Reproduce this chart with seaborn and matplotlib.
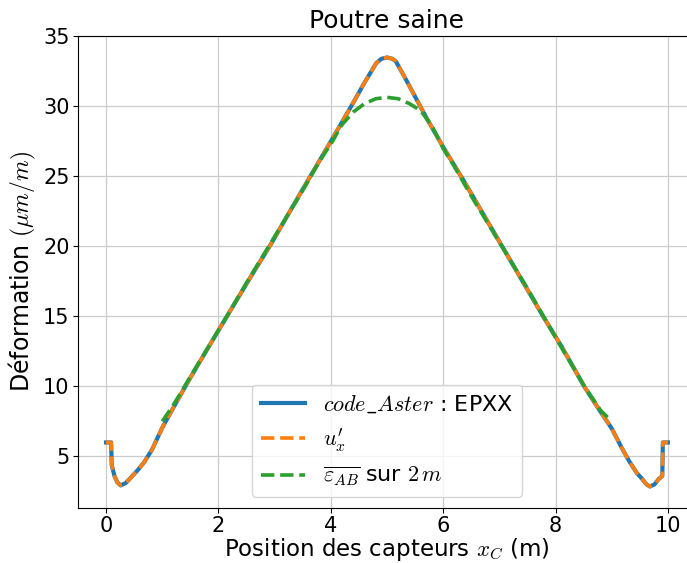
import matplotlib
matplotlib.use('Agg')
import matplotlib.pyplot as plt
import seaborn as sns

# code_Aster EPXX (strain along the beam)
x_aster = [0.0, 0.09, 0.1, 0.15, 0.2, 0.26, 0.35, 0.46, 0.57, 0.68, 0.82, 1.0,
           1.2, 1.41, 1.6, 1.8, 2.0, 2.3, 2.6, 2.94, 3.3, 3.62, 4.0, 4.39, 4.6,
           4.81, 4.9, 5.0, 5.1, 5.16, 5.3, 5.46, 5.7, 6.0, 6.35, 6.7, 7.05, 7.4,
           7.78, 8.1, 8.3, 8.51, 8.8, 9.0, 9.18, 9.32, 9.45, 9.54, 9.62, 9.68,
           9.76, 9.84, 9.9, 9.91, 10.0]
eps_aster = [6.0, 6.0, 4.4, 3.6, 3.15, 2.93, 3.1, 3.57, 4.05, 4.6, 5.5, 7.05,
             8.5, 10.0, 11.3, 12.65, 14.0, 16.0, 18.0, 20.2, 22.7, 24.9, 27.5, 30.2, 31.7,
             33.1, 33.4, 33.5, 33.4, 33.2, 32.2, 31.0, 29.2, 27.1, 24.8, 22.4, 20.0, 17.6,
             15.0, 12.9, 11.5, 10.0, 8.2, 7.0, 5.6, 4.6, 3.8, 3.4, 3.0, 2.85,
             3.0, 3.4, 3.6, 6.0, 6.0]

# moyenne glissante sur 2 m
x_moy = [1.0, 1.1, 1.2, 1.3, 1.5, 2.0, 2.5, 3.0, 3.5, 3.8, 4.0, 4.2, 4.4, 4.6,
         4.8, 5.0, 5.2, 5.4, 5.6, 5.8, 6.0, 6.2, 6.5, 7.0, 7.5, 8.0, 8.5, 8.7,
         8.8, 8.9, 9.0]
eps_moy = [7.5, 8.1, 8.7, 9.35, 10.7, 14.0, 17.4, 20.7, 24.0, 26.1, 27.3, 28.7, 29.6, 30.2,
           30.55, 30.65, 30.55, 30.2, 29.7, 28.6, 27.0, 25.7, 23.6, 20.3, 17.0, 13.5, 10.1, 8.9,
           8.3, 7.9, 7.5]

plt.rcParams['mathtext.fontset'] = 'cm'

fig = plt.figure(figsize=(6.87, 5.63), dpi=100)
ax = fig.add_axes([0.1135, 0.0977, 0.8996, 0.8384])

sns.lineplot(x=x_aster, y=eps_aster, ax=ax, color='tab:blue', linewidth=3,
             label=r'$code\_Aster$ : EPXX')
sns.lineplot(x=x_aster, y=eps_aster, ax=ax, color='tab:orange', linewidth=2.6,
             linestyle='--', label=r"$u^{\prime}_x$")
sns.lineplot(x=x_moy, y=eps_moy, ax=ax, color='tab:green', linewidth=2.6,
             linestyle='--', label=r'$\overline{\varepsilon_{AB}}$ sur $2\,m$')

ax.set_xlim(-0.5, 10.5)
ax.grid(True, color='#cccccc', linewidth=0.9)
ax.set_title('Poutre saine', fontsize=18)
ax.set_xlabel(r'Position des capteurs $x_C$ (m)', fontsize=16.5, labelpad=0)
ax.set_ylabel(r'Déformation $(\mu m/m)$', fontsize=17)
ax.tick_params(labelsize=15, pad=2.5)
ax.legend(loc='lower center', fontsize=16)

fig.savefig('out.png', dpi=100)
